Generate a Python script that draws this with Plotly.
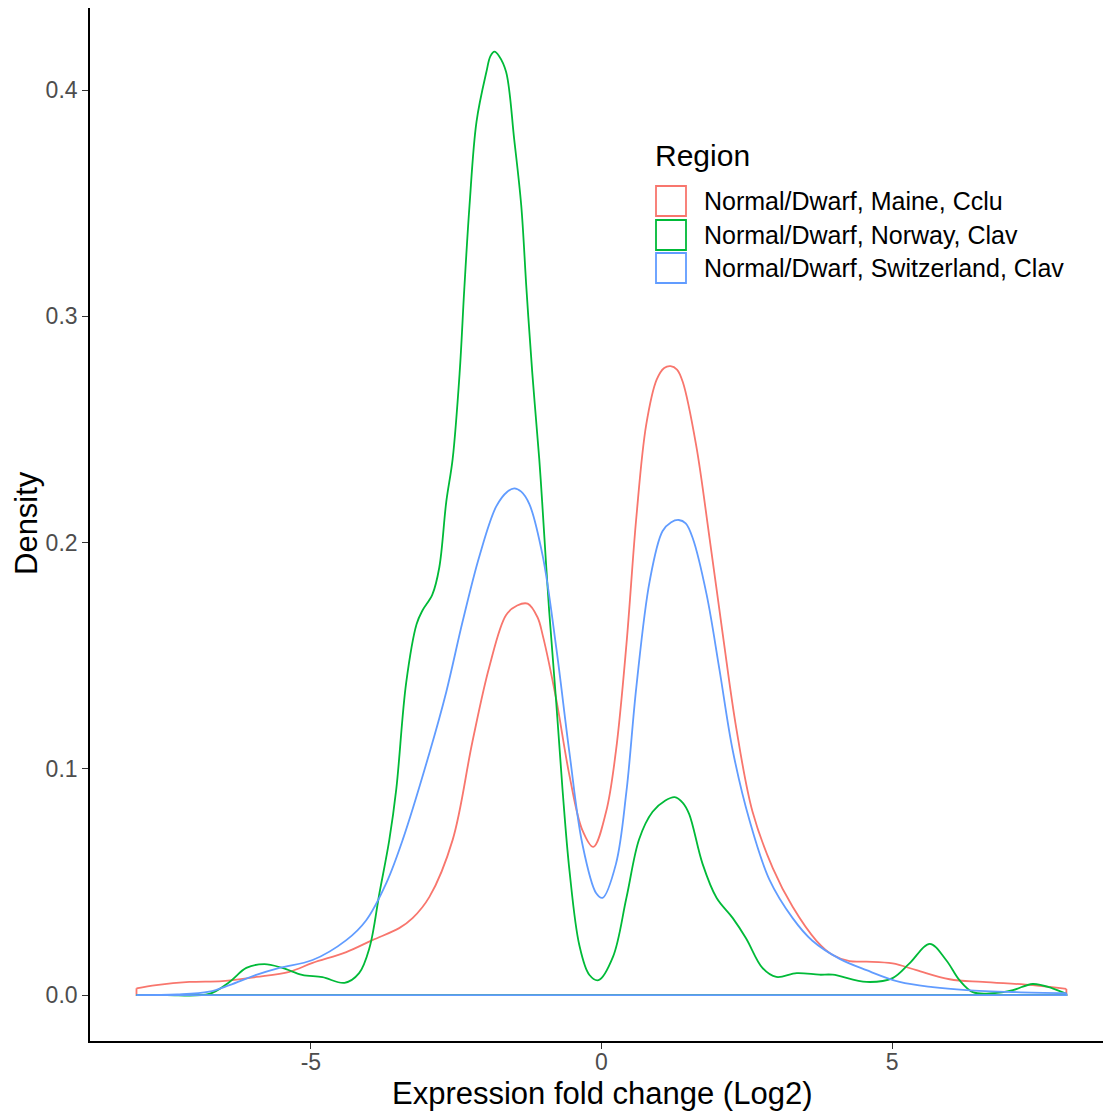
import plotly.graph_objects as go

# ---------------- data ----------------
region_names = [
    "Normal/Dwarf, Maine, Cclu",
    "Normal/Dwarf, Norway, Clav",
    "Normal/Dwarf, Switzerland, Clav",
]
colors = ["#F8766D", "#00BA38", "#619CFF"]

maine_x = [-8.0, -7.66, -7.09, -6.52, -5.94, -5.37, -4.97, -4.39, -3.94, -3.48, -3.25,
           -2.96, -2.56, -2.22, -1.93, -1.64, -1.45, -1.27, -1.10, -1.01, -0.78, -0.55, -0.33,
           -0.14, 0.08, 0.25, 0.43, 0.60, 0.77, 0.95, 1.08, 1.19, 1.30, 1.40, 1.63, 1.86, 2.09,
           2.32, 2.60, 2.95, 3.29, 3.70, 3.98, 4.27, 4.56, 5.01, 5.42, 5.99, 6.56,
           7.42, 8.0]
maine_y = [0.0030, 0.0044, 0.0058, 0.0062, 0.0080, 0.0103, 0.0142, 0.0190, 0.0243, 0.0296,
           0.0340, 0.0434, 0.0686, 0.1120, 0.1450, 0.1680, 0.1722, 0.1730, 0.1670, 0.1590, 0.1310,
           0.0970, 0.0730, 0.0655, 0.0810, 0.1080, 0.1550, 0.2110, 0.2520, 0.2720, 0.2772, 0.2780,
           0.2765, 0.2710, 0.2430, 0.2020, 0.1590, 0.1180, 0.0810, 0.0560, 0.0390, 0.0240, 0.0177,
           0.0150, 0.0148, 0.0140, 0.0110, 0.0070, 0.0058, 0.0044, 0.0027]

norway_x = [-8.0, -7.5, -6.75, -6.40, -6.11, -5.80, -5.49, -5.15, -4.80, -4.42, -4.17,
            -3.99, -3.82, -3.65, -3.53, -3.36, -3.18, -3.08, -2.91, -2.79, -2.67,
            -2.56, -2.44, -2.36, -2.27, -2.15, -1.98, -1.91, -1.84, -1.76, -1.64, -1.50, -1.38,
            -1.29, -1.19, -1.07, -1.02, -0.90, -0.78, -0.67, -0.55, -0.38, -0.21, -0.05, 0.20,
            0.43, 0.65, 0.88, 1.10, 1.26, 1.40, 1.51, 1.74, 1.98, 2.26, 2.49, 2.77, 3.01, 3.36,
            3.75, 3.98, 4.56, 5.01, 5.30, 5.65, 5.93, 6.16, 6.39, 6.73, 7.08, 7.42,
            7.76, 8.0]
norway_y = [0.0000, 0.0000, 0.0005, 0.0058, 0.0120, 0.0137, 0.0120, 0.0089, 0.0079, 0.0054,
            0.0097, 0.0210, 0.0450, 0.0686, 0.0910, 0.1380, 0.1640, 0.1700, 0.1770,
            0.1890, 0.2180, 0.2370, 0.2750, 0.3120, 0.3490, 0.3860, 0.4080, 0.4150, 0.4170,
            0.4150, 0.4080, 0.3780, 0.3490, 0.3120, 0.2750, 0.2370, 0.2180, 0.1700, 0.1300,
            0.0910, 0.0550, 0.0220, 0.0090, 0.0066, 0.0170, 0.0430, 0.0690, 0.0810, 0.0860,
            0.0875, 0.0850, 0.0800, 0.0580, 0.0430, 0.0340, 0.0250, 0.0120, 0.0080, 0.0097,
            0.0090, 0.0090, 0.0058, 0.0075, 0.0140, 0.0226, 0.0155, 0.0066, 0.0013, 0.0008,
            0.0022, 0.0049, 0.0030, 0.0005]

swiss_x = [-8.0, -7.3, -6.75, -6.40, -5.94, -5.54, -4.97, -4.39, -4.05, -3.70, -3.42,
           -2.96, -2.67, -2.39, -2.10, -1.81, -1.62, -1.50, -1.38, -1.24, -1.01, -0.78, -0.55,
           -0.33, -0.09, 0.02, 0.25, 0.43, 0.60, 0.83, 1.05, 1.20, 1.33, 1.45, 1.57, 1.81, 2.03,
           2.26, 2.55, 2.89, 3.29, 3.63, 4.10, 4.56, 5.13, 5.70, 6.28, 7.14, 8.0]
swiss_y = [0.0000, 0.0003, 0.0015, 0.0044, 0.0089, 0.0120, 0.0155, 0.0243, 0.0330, 0.0496,
           0.0686, 0.1070, 0.1340, 0.1650, 0.1940, 0.2160, 0.2225, 0.2240, 0.2225, 0.2170,
           0.1940, 0.1540, 0.1070, 0.0670, 0.0450, 0.0430, 0.0580, 0.0900, 0.1360, 0.1830,
           0.2050, 0.2090, 0.2100, 0.2085, 0.2020, 0.1770, 0.1440, 0.1080, 0.0770, 0.0510,
           0.0340, 0.0240, 0.0160, 0.0110, 0.0058, 0.0035, 0.0022, 0.0013, 0.0008]

x_ticks = [-5, 0, 5]
y_ticks = [0.0, 0.1, 0.2, 0.3, 0.4]
y_tick_text = ["0.0", "0.1", "0.2", "0.3", "0.4"]

series = [(maine_x, maine_y), (norway_x, norway_y), (swiss_x, swiss_y)]

# ---------------- figure ----------------
W, H = 1103, 1113
ML, MR, MT, MB = 90, 0, 8, 72
PW, PH = W - ML - MR, H - MT - MB


def px_x(p):
    return (p - ML) / PW


def px_y(p):
    return (H - MB - p) / PH


fig = go.Figure()
for (xs, ys), name, col in zip(series, region_names, colors):
    # density curve, with vertical drops to zero at both ends (as geom_density draws it)
    fig.add_trace(go.Scatter(
        x=list(xs), y=list(ys),
        mode="lines", name=name, showlegend=False,
        line=dict(color=col, width=1.8, shape="spline", smoothing=1.0),
        hoverinfo="skip",
    ))
    fig.add_trace(go.Scatter(
        x=[xs[0], xs[0], xs[-1], xs[-1]], y=[ys[0], 0, 0, ys[-1]],
        mode="lines", showlegend=False,
        line=dict(color=col, width=1.8), hoverinfo="skip",
    ))

font_family = "Liberation Sans, Arial, Helvetica, sans-serif"

shapes = []
annotations = []
# custom legend (ggplot style: outlined square keys)
annotations.append(dict(text="Region", x=px_x(653), y=px_y(156), xref="paper", yref="paper",
                        xanchor="left", yanchor="middle", showarrow=False,
                        font=dict(size=30, color="black", family=font_family)))
row_centers = [201, 235, 268]
for name, col, yc in zip(region_names, colors, row_centers):
    shapes.append(dict(type="rect", xref="paper", yref="paper",
                       x0=px_x(656), x1=px_x(686), y0=px_y(yc - 15), y1=px_y(yc + 15),
                       line=dict(color=col, width=1.8), fillcolor="white"))
    annotations.append(dict(text=name, x=px_x(702), y=px_y(yc), xref="paper", yref="paper",
                            xanchor="left", yanchor="middle", showarrow=False,
                            font=dict(size=25, color="black", family=font_family)))

# axis titles
annotations.append(dict(text="Expression fold change (Log2)", x=px_x(602), y=px_y(1093),
                        xref="paper", yref="paper", xanchor="center", yanchor="middle",
                        showarrow=False, font=dict(size=31, color="black", family=font_family)))
annotations.append(dict(text="Density", x=px_x(26), y=px_y(523), xref="paper", yref="paper",
                        xanchor="center", yanchor="middle", textangle=-90,
                        showarrow=False, font=dict(size=31, color="black", family=font_family)))

fig.update_layout(
    width=W, height=H,
    margin=dict(l=ML, r=MR, t=MT, b=MB),
    paper_bgcolor="white", plot_bgcolor="white",
    shapes=shapes, annotations=annotations,
    showlegend=False,
    font=dict(family=font_family),
)
fig.update_xaxes(
    range=[-8.8, 8.63], tickvals=x_ticks, ticktext=[str(t) for t in x_ticks],
    showgrid=False, zeroline=False, showline=True, linecolor="black", linewidth=1.6,
    ticks="outside", ticklen=6, tickwidth=1.4, tickcolor="#333333",
    ticklabelstandoff=-6,
    tickfont=dict(size=23, color="#4D4D4D", family=font_family),
)
fig.update_yaxes(
    range=[-0.0203, 0.4363], tickvals=y_ticks, ticktext=y_tick_text,
    showgrid=False, zeroline=False, showline=True, linecolor="black", linewidth=1.6,
    ticks="outside", ticklen=6, tickwidth=1.4, tickcolor="#333333",
    tickfont=dict(size=23, color="#4D4D4D", family=font_family),
)

fig.write_html("out.html")
